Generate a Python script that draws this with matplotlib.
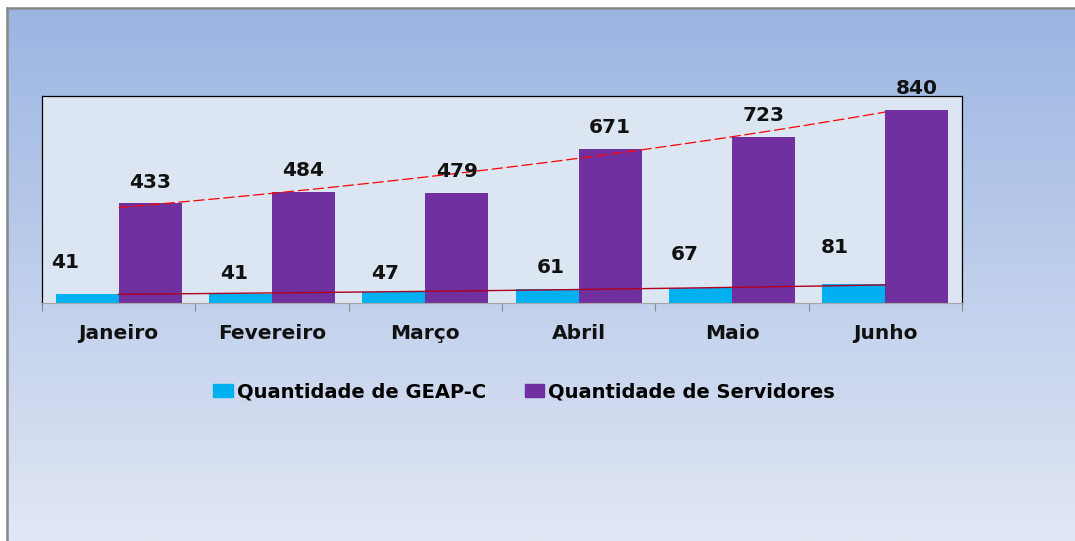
import numpy as np
import matplotlib
matplotlib.use('Agg')
import matplotlib.pyplot as plt
from matplotlib.lines import Line2D
from matplotlib.patches import Rectangle

# data
meses = ['Janeiro', 'Fevereiro', 'Março', 'Abril', 'Maio', 'Junho']
geap_c = [41, 41, 47, 61, 67, 81]
servidores = [433, 484, 479, 671, 723, 840]
nome_geap = 'Quantidade de GEAP-C'
nome_serv = 'Quantidade de Servidores'

# manual nudges of the GEAP-C value labels (pixels, as in the original)
geap_lbl_dx = [-22, -6, -9, 4, -16, -19]
geap_lbl_dy = [31, 20, 19, 21, 33, 37]

cor_geap = '#00b0f0'
cor_serv = '#7030a0'

plt.rcParams['font.family'] = 'DejaVu Sans'
plt.rcParams['font.weight'] = 'bold'

W, H = 1075, 541
fig = plt.figure(figsize=(W / 100, H / 100), dpi=100)
fig.patch.set_facecolor('white')

# background gradient of the chart area
bg = fig.add_axes([7 / W, 0, 1 - 7 / W, 1 - 8 / H], zorder=-5)
top = np.array([155, 181, 226]) / 255
bot = np.array([225, 231, 244]) / 255
t = np.linspace(0, 1, 256)[:, None]
grad = (top[None, :] * (1 - t) + bot[None, :] * t)[:, None, :]
bg.imshow(grad, aspect='auto', extent=[0, 1, 0, 1])
bg.set_axis_off()

# outer border (left and top)
bx, by = 7 / W, 1 - 8 / H
fig.add_artist(Line2D([bx, bx], [0, by], color='#888888', lw=1.8, transform=fig.transFigure))
fig.add_artist(Line2D([bx, 1], [by, by], color='#888888', lw=1.8, transform=fig.transFigure))

# plot area
ax = fig.add_axes([42 / W, 1 - 303 / H, 920 / W, 207 / H])
ax.set_facecolor('#dce6f2')
x = np.arange(len(meses))
off, bw = 0.205, 0.41

ax.bar(x - off, geap_c, bw, color=cor_geap, zorder=2, label=nome_geap)
ax.bar(x + off, servidores, bw, color=cor_serv, zorder=2, label=nome_serv)

# exponential trendlines
xs = np.linspace(0, len(meses) - 1, 200)
c_serv = np.polyfit(x, np.log(servidores), 1)
c_geap = np.polyfit(x, np.log(geap_c), 1)
ax.plot(xs, np.exp(np.polyval(c_serv, xs)), color='#ff0000', lw=0.9,
        dashes=(9, 3), zorder=3)
ax.plot(xs, np.exp(np.polyval(c_geap, xs)), color='#b00020', lw=1.0, zorder=3)

# value labels
for i, v in enumerate(servidores):
    ax.annotate(str(v), (x[i] + off, v), xytext=(0, 21), textcoords='offset pixels',
                ha='center', va='center', fontsize=14.5, fontweight='bold',
                color='#111111', annotation_clip=False, zorder=4)
for i, v in enumerate(geap_c):
    ax.annotate(str(v), (x[i] - off, v), xytext=(geap_lbl_dx[i], geap_lbl_dy[i]),
                textcoords='offset pixels', ha='center', va='center', fontsize=14.5,
                fontweight='bold', color='#111111', annotation_clip=False, zorder=4)

ax.set_xlim(-0.5, len(meses) - 0.5)
ax.set_ylim(0, 900)
ax.set_yticks([])
ax.set_xticks(x)
ax.set_xticklabels(meses, fontsize=14.5, fontweight='bold', color='#111111')
ax.set_xticks(np.arange(-0.5, len(meses), 1), minor=True)
ax.tick_params(axis='x', which='major', length=0, pad=15)
ax.tick_params(axis='x', which='minor', length=6, width=0.8, color='#8c8c8c')
for s in ['top', 'left', 'right']:
    ax.spines[s].set_color('black')
    ax.spines[s].set_linewidth(0.9)
ax.spines['bottom'].set_color('#a6a6a6')
ax.spines['bottom'].set_linewidth(0.8)

# legend
handles = [Rectangle((0, 0), 1, 1, color=cor_geap), Rectangle((0, 0), 1, 1, color=cor_serv)]
fig.legend(handles, [nome_geap, nome_serv], loc='center', bbox_to_anchor=(524 / W, 1 - 392 / H),
           ncol=2, frameon=False, prop={'size': 14, 'weight': 'bold'},
           handlelength=1.0, handleheight=0.6, handletextpad=0.2, columnspacing=2.0)

fig.savefig('out.png', dpi=100)
